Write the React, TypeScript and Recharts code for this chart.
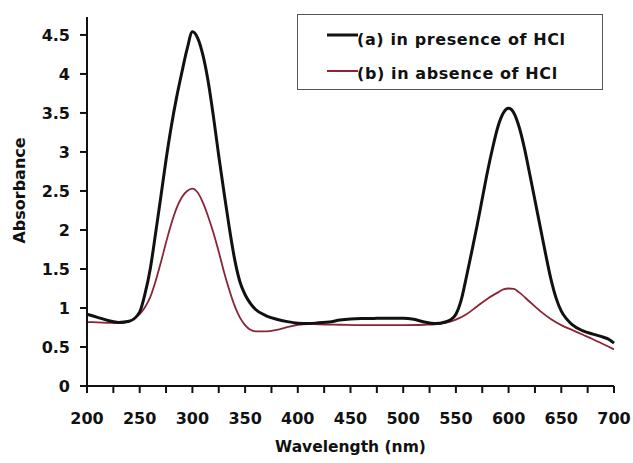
import React from 'react';
import { LineChart, Line, XAxis, YAxis, Legend, Label } from 'recharts';

// (a) in presence of HCl
const wavelengthsA = [
    200, 210, 220, 230, 240, 250, 255, 260, 265, 270, 275, 280, 285, 290, 295, 300, 305, 310, 315, 320,
    325, 330, 335, 340, 345, 350, 355, 360, 370, 380, 390, 400, 410, 420, 430, 440, 450, 460, 470, 480,
    490, 500, 510, 520, 530, 540, 545, 550, 555, 560, 565, 570, 575, 580, 585, 590, 595, 600, 605, 610,
    615, 620, 625, 630, 635, 640, 645, 650, 655, 660, 670, 680, 690, 695, 700,
];
const absorbanceA = [
    0.92, 0.88, 0.84, 0.815, 0.83, 0.95, 1.18, 1.5, 1.95, 2.42, 2.9, 3.33, 3.7, 4.02, 4.32, 4.54, 4.46, 4.24, 3.9, 3.45,
    2.95, 2.48, 2.03, 1.63, 1.34, 1.17, 1.06, 0.98, 0.9, 0.855, 0.825, 0.805, 0.8, 0.81, 0.82, 0.845, 0.86, 0.865, 0.865, 0.87,
    0.87, 0.87, 0.855, 0.82, 0.8, 0.82, 0.85, 0.92, 1.1, 1.4, 1.72, 2.05, 2.4, 2.75, 3.06, 3.33, 3.5, 3.56, 3.5, 3.32,
    3.05, 2.72, 2.38, 2.04, 1.7, 1.38, 1.13, 0.96, 0.86, 0.79, 0.71, 0.665, 0.625, 0.6, 0.55,
];

// (b) in absence of HCl
const wavelengthsB = [
    200, 210, 220, 230, 240, 250, 255, 260, 265, 270, 275, 280, 285, 290, 295, 300, 305, 310, 315, 320,
    325, 330, 335, 340, 345, 350, 355, 360, 370, 380, 390, 400, 410, 420, 440, 460, 480, 500, 520, 530,
    540, 550, 560, 570, 580, 590, 595, 600, 605, 610, 620, 630, 640, 650, 660, 670, 680, 690, 700,
];
const absorbanceB = [
    0.82, 0.815, 0.81, 0.805, 0.83, 0.92, 1.01, 1.14, 1.34, 1.58, 1.84, 2.08, 2.28, 2.42, 2.5, 2.53, 2.48, 2.35, 2.17, 1.96,
    1.72, 1.46, 1.23, 1.03, 0.88, 0.78, 0.72, 0.7, 0.7, 0.72, 0.755, 0.785, 0.795, 0.79, 0.785, 0.78, 0.78, 0.78, 0.785, 0.79,
    0.81, 0.85, 0.92, 1.02, 1.12, 1.2, 1.24, 1.25, 1.245, 1.2, 1.08, 0.96, 0.86, 0.78, 0.72, 0.66, 0.6, 0.535, 0.47,
];

const xTicks = [200, 225, 250, 275, 300, 325, 350, 375, 400, 425, 450, 475, 500, 525, 550, 575, 600, 625, 650, 675, 700];
const yTicks = [0, 0.5, 1, 1.5, 2, 2.5, 3, 3.5, 4, 4.5];

const seriesA = wavelengthsA.map((w, i) => ({ w, a: absorbanceA[i] }));
const seriesB = wavelengthsB.map((w, i) => ({ w, b: absorbanceB[i] }));

const FONT = '"DejaVu Sans", sans-serif';
const RED = '#8a2536';

const tickStyle = { fontFamily: FONT, fontWeight: 'bold', fontSize: 16, fill: '#111' };

const renderLegend = () => (
    <div style={{ width: 306, height: 76, border: '1px solid #555', boxSizing: 'border-box', background: '#fff' }}>
        <svg width={304} height={74} style={{ display: 'block' }}>
            <line x1={29} x2={60} y1={20} y2={20} stroke="#111" strokeWidth={3} />
            <text x={59} y={30} style={{ ...tickStyle, letterSpacing: 0.6 }}>(a) in presence of HCl</text>
            <line x1={29} x2={60} y1={56} y2={56} stroke={RED} strokeWidth={2} />
            <text x={59} y={64} style={{ ...tickStyle, letterSpacing: 0.6 }}>(b) in absence of HCl</text>
        </svg>
    </div>
);

const YTitle = (props: any) => {
    const { viewBox } = props;
    const cx = 25;
    const cy = viewBox.y + viewBox.height / 2 - 11;
    return (
        <text x={cx} y={cy} transform={`rotate(-90 ${cx} ${cy})`} textAnchor="middle" style={tickStyle}>
            Absorbance
        </text>
    );
};

const App = () => {
    return (
        <div style={{ position: 'absolute', left: 0, top: 0, background: '#fff' }}>
            <LineChart width={633} height={463} margin={{ top: 17, right: 19, bottom: 0, left: 0 }}>
                <XAxis
                    dataKey="w"
                    type="number"
                    domain={[200, 700]}
                    ticks={xTicks}
                    interval={0}
                    allowDuplicatedCategory={false}
                    tickFormatter={(v) => (v % 50 === 0 ? String(v) : '')}
                    tick={tickStyle}
                    tickSize={7}
                    tickMargin={20}
                    height={77}
                    stroke="#111"
                    strokeWidth={2}
                >
                    <Label
                        value="Wavelength (nm)"
                        position="insideBottom"
                        offset={11}
                        style={{ ...tickStyle, fontSize: 15.5 }}
                    />
                </XAxis>
                <YAxis
                    type="number"
                    domain={[0, 4.73]}
                    ticks={yTicks}
                    interval={0}
                    tick={tickStyle}
                    tickSize={7}
                    tickMargin={10}
                    width={87}
                    stroke="#111"
                    strokeWidth={2}
                >
                    <Label content={<YTitle />} />
                </YAxis>
                <Legend
                    layout="vertical"
                    align="center"
                    verticalAlign="middle"
                    content={renderLegend}
                    wrapperStyle={{ position: 'absolute', left: 297, top: 14, width: 306, height: 76 }}
                />
                <Line
                    data={seriesB}
                    dataKey="b"
                    type="monotone"
                    stroke={RED}
                    strokeWidth={1.8}
                    dot={false}
                    isAnimationActive={false}
                />
                <Line
                    data={seriesA}
                    dataKey="a"
                    type="monotone"
                    stroke="#111"
                    strokeWidth={3}
                    dot={false}
                    isAnimationActive={false}
                />
            </LineChart>
        </div>
    );
};

export default App;
